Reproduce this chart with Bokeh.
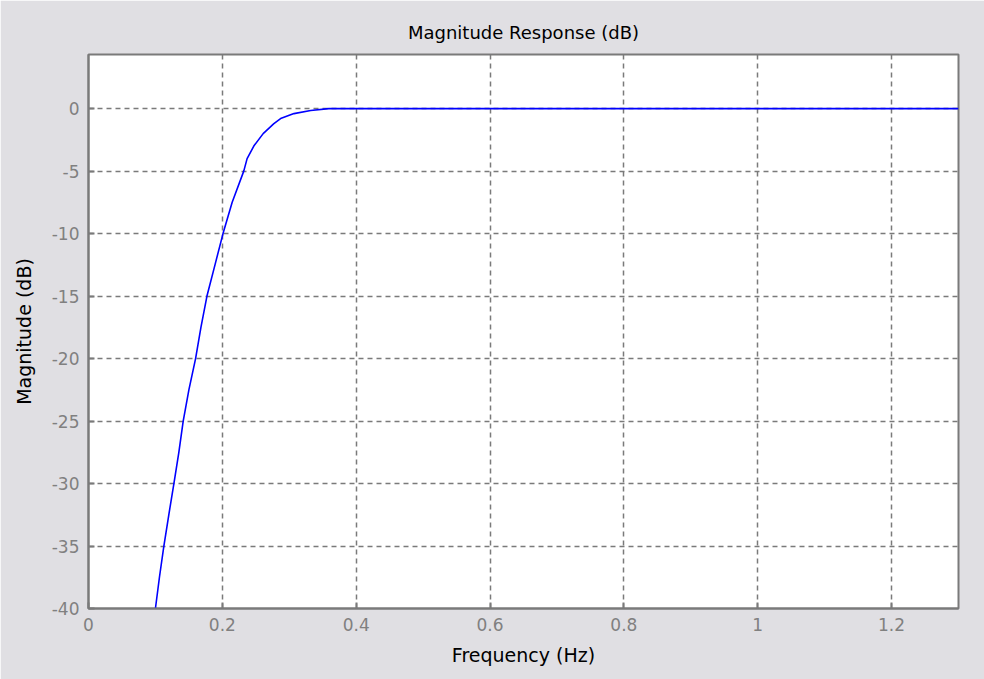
from bokeh.plotting import figure
from bokeh.models import Range1d, FixedTicker
from bokeh.embed import file_html
from bokeh.resources import INLINE

freq = [0.100, 0.106, 0.1126, 0.120, 0.1276, 0.135, 0.1415, 0.150, 0.160, 0.168, 0.177,
        0.189, 0.201, 0.2147, 0.232, 0.237, 0.247, 0.261, 0.277, 0.287, 0.307,
        0.332, 0.359, 0.40, 0.6, 0.8, 1.0, 1.2, 1.3]
mag_db = [-40.0, -37.5, -35.0, -32.5, -30.0, -27.5, -25.0, -22.5, -20.0, -17.5, -15.0,
          -12.5, -10.0, -7.5, -5.0, -4.0, -3.0, -2.0, -1.2, -0.8, -0.4,
          -0.15, 0.0, 0.0, 0.0, 0.0, 0.0, 0.0, 0.0]
x_ticks = [0, 0.2, 0.4, 0.6, 0.8, 1.0, 1.2]
x_tick_labels = {0: "0", 0.2: "0.2", 0.4: "0.4", 0.6: "0.6", 0.8: "0.8", 1.0: "1", 1.2: "1.2"}
y_ticks = [0, -5, -10, -15, -20, -25, -30, -35, -40]
y_tick_labels = {0: "0", -5: "-5", -10: "-10", -15: "-15", -20: "-20",
                 -25: "-25", -30: "-30", -35: "-35", -40: "-40"}

FONT = "DejaVu Sans"
BG = "#e0dfe3"
GRAY = "#7a7a7a"

p = figure(width=984, height=679, output_backend="svg", toolbar_location=None,
           x_range=Range1d(0, 1.3), y_range=Range1d(-40, 4.33),
           title="Magnitude Response (dB)",
           min_border_left=88, min_border_right=26, min_border_top=54, min_border_bottom=71)
p.border_fill_color = BG
p.background_fill_color = "white"
p.outline_line_color = GRAY
p.outline_line_width = 2

p.title.align = "center"
p.title.text_font = FONT
p.title.text_font_size = "18px"
p.title.text_font_style = "normal"
p.title.text_color = "#000000"
p.title.standoff = 23

p.line(freq, mag_db, line_color="#0000ff", line_width=1.6)

for ax in (p.xaxis, p.yaxis):
    ax.axis_line_color = GRAY
    ax.axis_line_width = 2
    ax.major_tick_in = 6
    ax.major_tick_out = 0
    ax.major_tick_line_color = GRAY
    ax.major_tick_line_width = 2
    ax.minor_tick_line_color = None
    ax.major_label_text_font = FONT
    ax.major_label_text_font_size = "17px"
    ax.major_label_text_color = "#808080"
    ax.axis_label_text_font = FONT
    ax.axis_label_text_font_size = "19px"
    ax.axis_label_text_font_style = "normal"
    ax.axis_label_text_color = "#000000"

p.xaxis.ticker = FixedTicker(ticks=x_ticks)
p.xaxis.major_label_overrides = x_tick_labels
p.xaxis.axis_label = "Frequency (Hz)"
p.xaxis.major_label_standoff = 9
p.xaxis.axis_label_standoff = 10
p.yaxis.ticker = FixedTicker(ticks=y_ticks)
p.yaxis.major_label_overrides = y_tick_labels
p.yaxis.axis_label = "Magnitude (dB)"
p.yaxis.major_label_standoff = 9
p.yaxis.axis_label_standoff = 14

for g in (p.xgrid, p.ygrid):
    g.grid_line_color = GRAY
    g.grid_line_width = 1.5
    g.grid_line_dash = "5 4"

open("out.html", "w").write(file_html(p, INLINE))
